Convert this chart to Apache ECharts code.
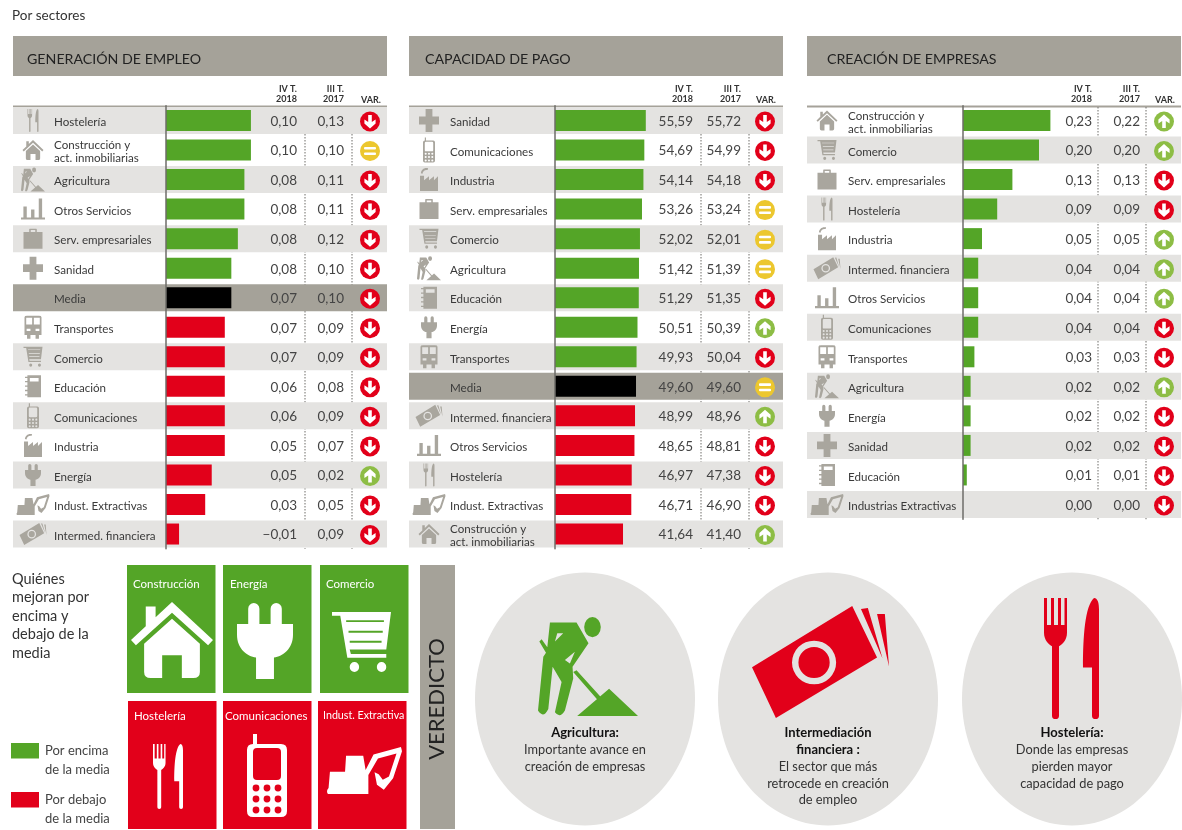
<!DOCTYPE html>
<html><head><meta charset="utf-8">
<style>html,body{margin:0;padding:0;background:#fff}#c{width:1182px;height:830px}</style>
<script src="https://cdn.jsdelivr.net/npm/echarts@6/dist/echarts.min.js"></script>
</head><body><div id="c"></div>
<script>
// ---- DATA ----
const empleoSectors = ['Hostelería','Construcción y\nact. inmobiliarias','Agricultura','Otros Servicios','Serv. empresariales','Sanidad','Media','Transportes','Comercio','Educación','Comunicaciones','Industria','Energía','Indust. Extractivas','Intermed. financiera'];
const empleoIcons = ['cutlery','house','worker','bars','case','cross',null,'bus','cart','book','phone','factory','plug','digger','bill'];
const empleoBars = [0.13,0.13,0.12,0.12,0.11,0.10,0.10,0.09,0.09,0.09,0.09,0.09,0.07,0.06,0.02];
const empleoIV = [0.10,0.10,0.08,0.08,0.08,0.08,0.07,0.07,0.07,0.06,0.06,0.05,0.05,0.03,-0.01];
const empleoIII = [0.13,0.10,0.11,0.11,0.12,0.10,0.10,0.09,0.09,0.08,0.09,0.07,0.02,0.05,0.09];
const empleoVar = ['d','e','d','d','d','d','d','d','d','d','d','d','u','d','d'];

const pagoSectors = ['Sanidad','Comunicaciones','Industria','Serv. empresariales','Comercio','Agricultura','Educación','Energía','Transportes','Media','Intermed. financiera','Otros Servicios','Hostelería','Indust. Extractivas','Construcción y\nact. inmobiliarias'];
const pagoIcons = ['cross','phone','factory','case','cart','worker','book','plug','bus',null,'bill','bars','cutlery','digger','house'];
const pagoIV = [55.59,54.69,54.14,53.26,52.02,51.42,51.29,50.51,49.93,49.60,48.99,48.65,46.97,46.71,41.64];
const pagoIII = [55.72,54.99,54.18,53.24,52.01,51.39,51.35,50.39,50.04,49.60,48.96,48.81,47.38,46.90,41.40];
const pagoVar = ['d','d','d','e','e','e','d','u','d','e','u','d','d','d','u'];

const empresasSectors = ['Construcción y\nact. inmobiliarias','Comercio','Serv. empresariales','Hostelería','Industria','Intermed. financiera','Otros Servicios','Comunicaciones','Transportes','Agricultura','Energía','Sanidad','Educación','Industrias Extractivas'];
const empresasIcons = ['house','cart','case','cutlery','factory','bill','bars','phone','bus','worker','plug','cross','book','digger'];
const empresasIV = [0.23,0.20,0.13,0.09,0.05,0.04,0.04,0.04,0.03,0.02,0.02,0.02,0.01,0.00];
const empresasIII = [0.22,0.20,0.13,0.09,0.05,0.04,0.04,0.04,0.03,0.02,0.02,0.02,0.01,0.00];
const empresasVar = ['u','u','d','d','u','u','u','d','d','u','d','d','d','d'];

const panelTitles = ['GENERACIÓN DE EMPLEO','CAPACIDAD DE PAGO','CREACIÓN DE EMPRESAS'];
const colHeads = ['IV T.\n2018','III T.\n2017','VAR.'];
const tilesAbove = ['Construcción','Energía','Comercio'];
const tilesBelow = ['Hostelería','Comunicaciones','Indust. Extractiva'];
const quienes = ['Quiénes','mejoran por','encima y','debajo de la','media'];
const veredictos = [
  {bold:['Agricultura:'],text:['Importante avance en','creación de empresas']},
  {bold:['Intermediación','financiera :'],text:['El sector que más','retrocede en creación','de empleo']},
  {bold:['Hostelería:'],text:['Donde las empresas','pierden mayor','capacidad de pago']}
];

// ---- STYLE ----
const GREEN='#54a527', RED='#e2001a', BLACK='#000', TAUPE='#a5a299', BAND='#e4e3e1', ICON='#a9a69e', TXT='#3a3a3a';
const FONT='Lato';

// ---- ICON SHAPES ----
const keyHoles=(()=>{let s='';for(const y of [54,65,76])for(const x of [9,20,31])s+=`M${x-3.4} ${y}a3.4 3.4 0 1 0 6.8 0a3.4 3.4 0 1 0 -6.8 0Z`;return s;})();
const PATHS={
 house:'M50 0L100 50L94 57L50 14L6 57L0 50L18 32V6H30V20ZM50 22L84 55V92Q84 100 76 100H62V70H38V100H24Q16 100 16 92V55Z',
 plug:'M20 9A10 9 0 0 1 40 9V33H60V9A10 9 0 0 1 80 9V33H100V50C100 72 82 84 66 86V120H34V86C18 84 0 72 0 50V33H20Z',
 cart:'M0 0H100L92 60H30L32 67H92V73H26L14 6H0ZM24 13V16H88V13ZM28 30V33H86V30ZM30 46V49H84V46ZM30 88a8 8 0 1 0 16 0a8 8 0 1 0 -16 0ZM76 88a8 8 0 1 0 16 0a8 8 0 1 0 -16 0Z',
 cutlery:'M0 0H3V28H7V0H10V28H14V0H17V28H20.5V0H23V36C23 44 18 48 15 50V122A3.5 3.5 0 0 1 8 122V50C5 48 0 44 0 36ZM48 122V72H39C39 40 41 8 50 0C54 0 55 6 55 12V122A3.5 3.5 0 0 1 48 122Z',
 phone:'M6 10H34Q40 10 40 16V77Q40 83 34 83H6Q0 83 0 77V16Q0 10 6 10ZM6 10V0H10V10ZM6 18V42Q6 46 10 46H30Q34 46 34 42V18Q34 14 30 14H10Q6 14 6 18Z'+keyHoles,
 digger:'M85 62H135L142 105L165 58L245 35L248 48L222 130L195 165L175 150L168 112L180 118L192 135L210 125L232 55L178 70L150 120V178H32Q26 170 34 160L38 110H82Z',
 worker:'M60 38H140L176 100L128 170L130 205L105 300Q90 325 75 305L95 215L68 170L55 295Q40 325 24 300L40 140L48 128L28 95L35 88L52 112ZM82 70L75 95L100 70ZM135 125L105 150L120 160ZM130 185L140 180L215 262L205 270ZM238 235L325 316H142ZM163 52A25 30 0 1 1 213 52A25 30 0 1 1 163 52Z',
 bill:'M218 0L272 153L52 333L0 182ZM87 168A48 65 0 1 0 183 168A48 65 0 1 0 87 168ZM101 168A34 46 0 1 1 169 168A34 46 0 1 1 101 168ZM237 9L252 6L284 156ZM272 24L289 24L298 180Z',
 bars:'M0 90H100V100H0ZM10 38H24V90H10ZM42 52H56V90H42ZM74 0H88V90H74Z',
 case:'M0 18H30V5Q30 2 33 2H67Q70 2 70 5V18H100V100H0ZM38 18H62V9H38Z',
 cross:'M33 0H67V33H100V67H67V100H33V67H0V33H33Z',
 bus:'M6 0H34Q40 0 40 6V80H34V96H26V80H14V96H6V80H0V6Q0 0 6 0ZM4 8V36H18V8ZM22 8V36H36V8ZM5 54V64H14V54ZM26 54V64H35V54Z',
 book:'M6 0H40V100H6V92H0V86H6V72H0V66H6V52H0V46H6V32H0V26H6V12H0V6H6ZM12 12V28H34V12Z',
 factory:'M0 100V38H18V56L40 40V56L62 40V56L80 40V100ZM4 28C6 14 18 4 36 8L34 15C22 13 13 18 11 30Z'
};
const SMALL={cutlery:[11,23],house:[21,20],worker:[24,24],bars:[24,21],case:[19,20],cross:[20,23],bus:[17,23],cart:[19,20],book:[16,22],phone:[12,25],factory:[18,23],plug:[16,22],digger:[33,21],bill:[27,22]};

function icon(name,x0,y0,x1,y1,color){
  return {type:'path',shape:{pathData:PATHS[name],x:x0,y:y0,width:x1-x0,height:y1-y0,layout:'cover'},style:{fill:color}};
}
function txt(text,x,y,font,fill,align,extra){
  return Object.assign({type:'text',style:{text,x,y,font,fill:fill||TXT,align:align||'left',verticalAlign:'middle'}},extra||{});
}
function num(v){return (v<0?'−':'')+Math.abs(v).toFixed(2).replace('.',',');}
function badge(kind,cx,cy){
  const col=kind==='d'?RED:kind==='u'?'#8dbd45':'#ecc72e';
  const els=[{type:'circle',shape:{cx,cy,r:10},style:{fill:col}}];
  if(kind==='e'){
    els.push({type:'rect',shape:{x:cx-6,y:cy-4,width:12,height:2.6,r:1},style:{fill:'#fff'}});
    els.push({type:'rect',shape:{x:cx-6,y:cy+1.4,width:12,height:2.6,r:1},style:{fill:'#fff'}});
  }else{
    const s=kind==='d'?1:-1;
    els.push({type:'polygon',shape:{points:[[cx-1.8,cy-6.5*s],[cx+1.8,cy-6.5*s],[cx+1.8,cy+0.5*s],[cx+5.6,cy-2*s],[cx+5.6,cy+2*s],[cx,cy+7*s],[cx-5.6,cy+2*s],[cx-5.6,cy-2*s],[cx-1.8,cy+0.5*s]]},style:{fill:'#fff'}});
  }
  return els;
}

// ---- PANELS ----
const ROW=29.54, TOP=105.7;
const panels=[
 {left:13,axisX:166,barW:98,max:0.15,sectors:empleoSectors,icons:empleoIcons,bars:empleoBars,iv:empleoIV,iii:empleoIII,vr:empleoVar,media:6,even:true,num1:297,num2:344,dot1:305,dot2:352,badge:370},
 {left:409,axisX:555,barW:98,max:60,sectors:pagoSectors,icons:pagoIcons,bars:pagoIV,iv:pagoIV,iii:pagoIII,vr:pagoVar,media:9,even:true,num1:693,num2:741,dot1:701,dot2:749,badge:765},
 {left:807,axisX:963,barW:95,max:0.25,sectors:empresasSectors,icons:empresasIcons,bars:empresasIV,iv:empresasIV,iii:empresasIII,vr:empresasVar,media:-1,even:false,num1:1092,num2:1140,dot1:1098,dot2:1146,badge:1164}
];
const PW=374;

const grids=[],xAxes=[],yAxes=[],series=[];
panels.forEach((p,k)=>{
  const n=p.sectors.length;
  grids.push({left:p.axisX,top:TOP,width:p.barW,height:n*ROW,containLabel:false});
  xAxes.push({type:'value',gridIndex:k,min:0,max:p.max,show:false});
  yAxes.push({type:'category',gridIndex:k,inverse:true,data:p.sectors,z:4,
    axisTick:{show:false},
    axisLine:{show:true,onZero:false,lineStyle:{color:'#6e6d69',width:1.5}},
    axisLabel:{show:false}});
  series.push({type:'custom',xAxisIndex:k,yAxisIndex:k,z:1,silent:true,clip:false,
    data:p.sectors.map((s,i)=>[0,i]),encode:{x:0,y:1},
    renderItem(params,api){
      const i=api.value(1);
      const y=api.coord([0,i])[1];
      const kids=[];
      const shaded=i===p.media?TAUPE:((i%2===0)===p.even?BAND:null);
      if(shaded)kids.push({type:'rect',shape:{x:p.left,y:y-13.5,width:PW,height:27},style:{fill:shaded}});
      const ic=p.icons[i];
      if(ic){const [w,h]=SMALL[ic];const cx=p.left+20;kids.push(icon(ic,cx-w/2,y-h/2,cx+w/2,y+h/2,ICON));}
      const lab=txt(p.sectors[i],p.left+41,y+2,`11.6px ${FONT}`,TXT,'left');
      lab.style.lineHeight=13;
      kids.push(lab);
      kids.push(txt(num(p.iv[i]),p.num1,y+1,`13.5px ${FONT}`,'#444','right'));
      kids.push(txt(num(p.iii[i]),p.num2,y+1,`13.5px ${FONT}`,'#444','right'));
      badge(p.vr[i],p.badge,y+1).forEach(e=>kids.push(e));
      return {type:'group',children:kids};
    }});
  series.push({type:'bar',xAxisIndex:k,yAxisIndex:k,z:2,barWidth:21,silent:true,
    data:p.bars,
    itemStyle:{color:(c)=>c.dataIndex===p.media?BLACK:(p.media<0||c.dataIndex<p.media?GREEN:RED)}});
});

// ---- PAGE FURNITURE ----
function furniture(){
  const k=[];
  k.push(txt('Por sectores',12,16,`13.5px ${FONT}`,'#333'));
  panels.forEach(p=>{
    const n=p.sectors.length, bottom=TOP+n*ROW;
    k.push({type:'rect',shape:{x:p.left,y:36,width:PW,height:40},style:{fill:TAUPE}});
    k.push({type:'rect',shape:{x:p.left,y:105.5,width:PW,height:2},style:{fill:TAUPE}});
    [p.dot1,p.dot2].forEach(x=>k.push({type:'line',z2:30,shape:{x1:x,y1:107,x2:x,y2:bottom},style:{stroke:'#6e6d69',lineWidth:1,lineDash:[1.5,1.5]}}));
    const hf=`bold 9px ${FONT}`;
    colHeads[0].split('\n').forEach((t,i)=>k.push(txt(t,p.num1,89+i*10.5,hf,'#333','right')));
    colHeads[1].split('\n').forEach((t,i)=>k.push(txt(t,p.num2,89+i*10.5,hf,'#333','right')));
    k.push(txt(colHeads[2],p.badge+1,100,hf,'#333','center'));
  });
  quienes.forEach((t,i)=>k.push(txt(t,12,579+i*18.6,`14.5px ${FONT}`,'#333')));
  k.push({type:'rect',shape:{x:11,y:743,width:28,height:15.5},style:{fill:GREEN}});
  k.push({type:'rect',shape:{x:11,y:792,width:28,height:15.5},style:{fill:RED}});
  [['Por encima',751],['de la media',770],['Por debajo',800],['de la media',819]].forEach(a=>k.push(txt(a[0],45,a[1],`13px ${FONT}`,'#444')));
  const gx=[127,223,320], rx=[128,223,318], tgx=[133,230,326], trx=[134,225,323], rfs=[11.5,11.5,10.7];
  gx.forEach((x,i)=>{k.push({type:'rect',shape:{x,y:565,width:88.5,height:128},style:{fill:GREEN}});k.push(txt(tilesAbove[i],tgx[i],584,`11.5px ${FONT}`,'#fff'));});
  rx.forEach((x,i)=>{k.push({type:'rect',shape:{x,y:701,width:88.5,height:128},style:{fill:RED}});k.push(txt(tilesBelow[i],trx[i],716,`${rfs[i]}px ${FONT}`,'#fff'));});
  k.push(icon('house',131,602,213,678,'#fff'));
  k.push(icon('plug',237,603,293,679,'#fff'));
  k.push(icon('cart',332,612,391,672,'#fff'));
  k.push(icon('cutlery',153,744,183,809,'#fff'));
  k.push(icon('phone',247,734,287,817,'#fff'));
  k.push(icon('digger',327,747,402,794,'#fff'));
  k.push({type:'rect',shape:{x:420,y:565,width:35,height:264},style:{fill:TAUPE}});
  k.push({type:'text',x:437,y:699,rotation:Math.PI/2,style:{text:'VEREDICTO',x:0,y:0,font:`22px ${FONT}`,fill:'#222',align:'center',verticalAlign:'middle'}});
  const cxs=[585,828,1072];
  cxs.forEach((cx,i)=>{
    k.push({type:'ellipse',shape:{cx,cy:699,rx:110,ry:126.5},style:{fill:BAND}});
    let y=733;
    veredictos[i].bold.forEach(t=>{k.push(txt(t,cx,y,`bold 13px ${FONT}`,'#111','center'));y+=16.8;});
    veredictos[i].text.forEach(t=>{k.push(txt(t,cx,y,`12.8px ${FONT}`,'#333','center'));y+=16.8;});
  });
  k.push(icon('worker',538,617,638,716,GREEN));
  k.push(icon('bill',752,606,889,718,RED));
  k.push(icon('cutlery',1044,598,1099,719,RED));
  return {type:'group',children:k};
}
series.push({type:'custom',coordinateSystem:'none',z:0,silent:true,data:[0],renderItem:furniture});

const chart=echarts.init(document.getElementById('c'),null,{renderer:'canvas'});
chart.setOption({
  animation:false,backgroundColor:'#fff',
  title:panelTitles.map((t,i)=>({text:t,left:[27,425,827][i],top:52,z:8,padding:0,textStyle:{fontFamily:FONT,fontSize:14.2,fontWeight:'normal',color:'#222'}})),
  grid:grids,xAxis:xAxes,yAxis:yAxes,series
});
</script></body></html>
